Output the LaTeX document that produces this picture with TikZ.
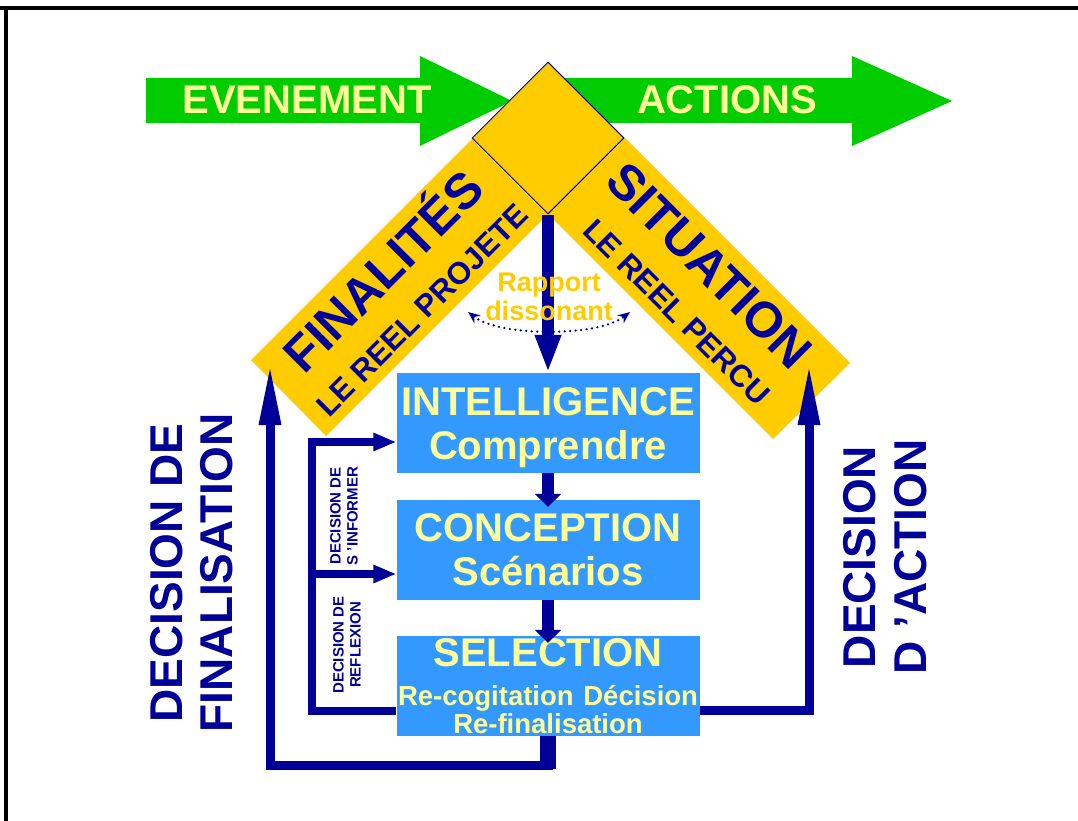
\documentclass[tikz,border=0pt]{standalone}
\usepackage{fontspec}
\setmainfont{Liberation Sans}
\usetikzlibrary{arrows.meta,shapes.geometric,positioning}
\definecolor{navy}{RGB}{0,0,153}
\definecolor{grn}{RGB}{0,204,0}
\definecolor{gold}{RGB}{255,204,0}
\definecolor{boxblue}{RGB}{51,153,255}
\definecolor{paleyel}{RGB}{255,255,153}

\begin{document}
\begin{tikzpicture}[x=1pt,y=-1pt]
\tikzstyle{every node}+=[inner sep=0pt]
\tikzstyle{box}=[fill=boxblue, text=paleyel, minimum width=303pt, minimum height=100pt, text width=303pt, align=center]
\tikzstyle{loop}=[navy, line width=9pt]
\tikzstyle{bigtip}=[-{Triangle[length=62pt,width=20pt]}]
\tikzstyle{smalltip}=[-{Triangle[length=23pt,width=17pt]}]
\tikzstyle{downtip}=[-{Triangle[length=13pt,width=26pt]}]
\tikzstyle{bandtitle}=[navy, text height=36pt, text depth=0pt, font=\bfseries\fontsize{50}{50}\selectfont]
\tikzstyle{bandsub}=[navy, text height=22pt, text depth=0pt, font=\bfseries\fontsize{31}{31}\selectfont]
\useasboundingbox (0,0) rectangle (1078,821);
\fill [white] (0,0) rectangle (1078,821);
\draw [black, line width=4pt] (0,8) -- (1078,8);
\draw [black, line width=3.5pt] (6,6) -- (6,821);
\fill [grn] (146,78) -- (420,78) -- (420,56) -- (512,101) -- (420,146) -- (420,123) -- (146,123) -- cycle;
\fill [grn] (560,78) -- (852,78) -- (852,56) -- (952,101) -- (852,146) -- (852,123) -- (560,123) -- cycle;
\node [text=paleyel, font=\bfseries\fontsize{40}{40}\selectfont] (evt) at (307,100) {EVENEMENT};
\node [text=paleyel, font=\bfseries\fontsize{40}{40}\selectfont] (act) at (727,100) {ACTIONS};
\fill [gold] (473,138) -- (548,214) -- (326,436) -- (251,360) -- cycle;
\fill [gold] (625,138) -- (548,214) -- (773,439) -- (850,363) -- cycle;
\node [diamond, draw=navy, line width=1pt, fill=gold, minimum width=152pt, minimum height=152pt] (dia) at (548,138) {};
\node [bandtitle, rotate=45] (final) at (383,271) {FINALIT\'ES};
\node [bandsub, rotate=45] (finalsub) at (422,310) {LE REEL PROJETE};
\node [bandtitle, rotate=-45] (situ) at (710,265) {SITUATION};
\node [bandsub, rotate=-45] (situsub) at (677,312) {LE REEL PERCU};
\node [box, font=\bfseries\fontsize{40}{44}\selectfont] (intel) at (548,423) {\rule{0pt}{37pt}INTELLIGENCE\par Comprendre};
\node [box, font=\bfseries\fontsize{40}{44}\selectfont] (concep) at (548,550) {CONCEPTION\par Sc\'enarios};
\node [box, font=\bfseries] (select) at (548,686) {\fontsize{40}{40}\selectfont SELECTION\par
  \fontsize{27.5}{39}\selectfont \makebox[300pt]{Re-cogitation\hfill D\'ecision}\par
  \fontsize{27.5}{28}\selectfont Re-finalisation\par};
\draw [navy, line width=12pt, -{Triangle[length=38pt,width=24pt]}] (dia.south) -- (intel.north);
\draw [navy, line width=12pt, downtip] (intel.south) -- ([yshift=-7pt]concep.north);
\draw [navy, line width=12pt, downtip] (concep.south) -- ([yshift=-7pt]select.north);
\coordinate (dl) at (468,312);
\coordinate (dr) at (630,312);
\draw [navy, line width=2.5pt, line cap=round, dash pattern=on 0pt off 5.5pt, {Stealth[length=12pt,width=10pt]}-{Stealth[length=12pt,width=10pt]}] (dl) .. controls (500,337) and (598,337) .. (dr);
\node [text=gold, align=center, font=\bfseries\fontsize{27}{29}\selectfont] (rap) at (549,297) {Rapport\\dissonant};
\coordinate (fin) at (270,363);
\coordinate (acti) at (809,363);
\coordinate (fork) at (312,574);
\draw [navy, line width=16pt] (select.south) -- (548,769);
\draw [loop, bigtip] (select.south) |- (270,765) -- (fin);
\draw [loop, bigtip] ([yshift=-24pt]select.east) -| (acti);
\draw [loop, line width=8pt, smalltip] ([yshift=-25pt]select.west) -| (312,442) -- ([yshift=-19pt]intel.west);
\draw [loop, line width=8pt, smalltip] (fork) -- ([yshift=-24pt]concep.west);
\node [navy, rotate=90, align=center, font=\bfseries\fontsize{15}{17}\selectfont] (inform) at (344,516) {DECISION DE\\S ’INFORMER};
\node [navy, rotate=90, align=center, font=\bfseries\fontsize{15}{17}\selectfont] (reflex) at (347,645) {DECISION DE\\REFLEXION};
\node [navy, rotate=90, align=center, font=\bfseries\fontsize{46}{50}\selectfont] (decfin) at (192,573) {DECISION DE\\FINALISATION};
\node [navy, rotate=90, align=center, font=\bfseries\fontsize{46}{51}\selectfont] (decact) at (885,557) {DECISION\\D ’ACTION};
\end{tikzpicture}
\end{document}
